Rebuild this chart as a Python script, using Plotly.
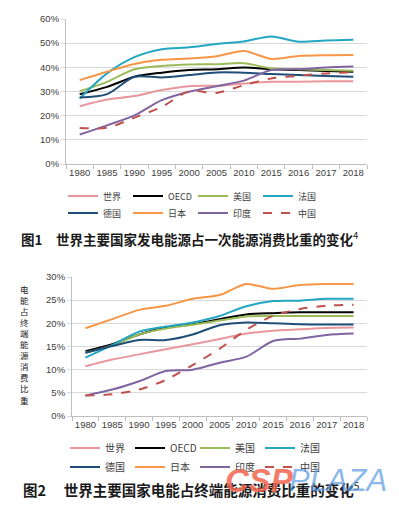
import plotly.graph_objects as go

W, H = 399, 511

years = ["1980", "1985", "1990", "1995", "2000", "2005", "2010", "2015", "2016", "2017", "2018"]
series_names = ["世界", "OECD", "美国", "法国", "德国", "日本", "印度", "中国"]

# Figure 1: share of power generation in primary energy consumption (%)
gen_world = [23.9, 26.7, 28.1, 30.6, 32.2, 32.4, 33.3, 34.0, 34.0, 34.2, 34.2]
gen_oecd = [28.9, 31.9, 36.1, 37.8, 38.9, 39.2, 39.9, 39.2, 38.9, 38.5, 38.2]
gen_usa = [30.1, 34.0, 39.2, 40.6, 41.2, 41.3, 41.7, 39.6, 39.2, 38.9, 38.6]
gen_france = [27.1, 37.5, 44.2, 47.5, 48.3, 49.7, 50.7, 52.8, 50.6, 51.1, 51.4]
gen_germany = [27.5, 28.9, 36.1, 35.8, 36.8, 37.9, 37.8, 37.2, 36.8, 36.4, 36.1]
gen_japan = [34.7, 38.2, 41.4, 43.1, 43.7, 44.6, 46.8, 43.5, 44.7, 45.0, 45.1]
gen_india = [12.2, 16.0, 20.1, 26.4, 29.9, 32.2, 34.5, 38.9, 39.2, 39.9, 40.3]
gen_china = [14.9, 15.0, 19.2, 23.6, 30.1, 29.4, 32.6, 35.4, 36.5, 37.5, 37.9]

# Figure 2: share of electricity in final energy consumption (%)
el_world = [10.75, 12.2, 13.3, 14.4, 15.5, 16.6, 17.8, 18.4, 18.7, 19.0, 19.1]
el_oecd = [14.0, 15.5, 17.6, 19.1, 19.8, 20.9, 21.9, 22.2, 22.4, 22.4, 22.4]
el_usa = [13.65, 15.25, 17.6, 18.9, 19.7, 20.6, 21.5, 21.6, 21.6, 21.6, 21.6]
el_france = [12.6, 15.3, 18.2, 19.3, 20.2, 21.6, 23.7, 24.8, 24.9, 25.3, 25.3]
el_germany = [13.65, 15.1, 16.4, 16.4, 17.6, 19.6, 20.2, 20.0, 19.8, 19.75, 19.75]
el_japan = [18.95, 20.9, 22.9, 23.8, 25.3, 26.1, 28.5, 27.45, 28.3, 28.5, 28.5]
el_india = [4.4, 5.7, 7.5, 9.7, 10.0, 11.5, 12.8, 16.2, 16.7, 17.5, 17.8]
el_china = [4.4, 4.7, 5.7, 7.8, 11.0, 14.5, 18.6, 21.6, 23.1, 23.8, 24.0]

y1_ticks = [0, 10, 20, 30, 40, 50, 60]
y2_ticks = [0, 5, 10, 15, 20, 25, 30]

caption1 = "图1　世界主要国家发电能源占一次能源消费比重的变化"
caption2 = "图2　 世界主要国家电能占终端能源消费比重的变化"
ytitle2 = "电能占终端能源消费比重"

colors = ["#E8979C", "#000000", "#9BBB59", "#23A6C2", "#1F4E79", "#F79646", "#8064A2", "#C0504D"]
dashes = ["solid"] * 7 + ["dash"]

gen_data = [gen_world, gen_oecd, gen_usa, gen_france, gen_germany, gen_japan, gen_india, gen_china]
el_data = [el_world, el_oecd, el_usa, el_france, el_germany, el_japan, el_india, el_china]

CJK = "Noto Sans CJK SC, Noto Sans, sans-serif"
NUMF = "Liberation Sans, Arial, sans-serif"
TXT = "#404040"

fig = go.Figure()
for i, name in enumerate(series_names):
    fig.add_trace(go.Scatter(
        x=years, y=gen_data[i], name=name, mode="lines",
        line=dict(color=colors[i], width=2, dash=dashes[i], shape="spline", smoothing=0.8),
        xaxis="x", yaxis="y", legend="legend" if i < 4 else "legend2",
        hoverinfo="skip"))
for i, name in enumerate(series_names):
    fig.add_trace(go.Scatter(
        x=years, y=el_data[i], name=name, mode="lines",
        line=dict(color=colors[i], width=2, dash=dashes[i], shape="spline", smoothing=0.8),
        xaxis="x2", yaxis="y2", legend="legend3" if i < 4 else "legend4",
        hoverinfo="skip"))

def xax(domain, anchor):
    return dict(domain=domain, anchor=anchor, type="category", range=[-0.5, 10.5],
                tickson="boundaries", ticks="outside", ticklen=4, tickcolor="#BFBFBF",
                showline=True, linecolor="#BFBFBF", linewidth=1, showgrid=False,
                tickangle=0, automargin=False,
                tickfont=dict(family=NUMF, size=9.5, color=TXT), fixedrange=True)

def yax(domain, anchor, rng, ticks):
    return dict(domain=domain, anchor=anchor, range=rng, tickvals=ticks,
                ticktext=[f"{t}%" for t in ticks],
                showgrid=True, gridcolor="#D9D9D9", gridwidth=1,
                showline=True, linecolor="#BFBFBF", linewidth=1, automargin=False,
                ticks="outside", ticklen=4, tickcolor="#D9D9D9", zeroline=False,
                tickfont=dict(family=NUMF, size=9.5, color=TXT), fixedrange=True)

def leg(x, y, size):
    return dict(orientation="h", x=x, y=y, xanchor="left", yanchor="middle",
                entrywidth=20, entrywidthmode="pixels", bgcolor="rgba(0,0,0,0)",
                font=dict(family=CJK, size=size, color=TXT), tracegroupgap=0,
                itemwidth=30, traceorder="normal")

fig.update_layout(
    width=W, height=H, margin=dict(l=0, r=0, t=0, b=0),
    paper_bgcolor="white", plot_bgcolor="white",
    showlegend=True,
    xaxis=xax([66 / W, 367 / W], "y"),
    yaxis=yax([1 - 164 / H, 1 - 19 / H], "x", [0, 60], y1_ticks),
    xaxis2=xax([72 / W, 367 / W], "y2"),
    yaxis2=yax([1 - 416 / H, 1 - 277 / H], "x2", [0, 30], y2_ticks),
    legend=leg(63 / W, 1 - 196 / H, 9),
    legend2=leg(63 / W, 1 - 213 / H, 9),
    legend3=leg(65 / W, 1 - 448 / H, 10),
    legend4=leg(65 / W, 1 - 467 / H, 10),
)

annotations = [
    dict(text=f"<b>{caption1}</b><sup>4</sup>", x=19 / W, y=1 - 238 / H, xref="paper", yref="paper",
         xanchor="left", yanchor="middle", showarrow=False,
         font=dict(family=CJK, size=13.5, color="#1a1a1a")),
    dict(text=f"<b>{caption2}</b><sup>5</sup>", x=21 / W, y=1 - 489 / H, xref="paper", yref="paper",
         xanchor="left", yanchor="middle", showarrow=False,
         font=dict(family=CJK, size=14.5, color="#1a1a1a")),
    dict(text="<br>".join(ytitle2), x=24 / W, y=1 - 344 / H, xref="paper", yref="paper",
         xanchor="center", yanchor="middle", showarrow=False, textangle=0, align="center",
         font=dict(family=CJK, size=8.5, color="#1a1a1a")),
    # watermark
    dict(text="<b><i>CSP</i></b>", x=223 / W, y=1 - 480 / H, xref="paper", yref="paper",
         xanchor="left", yanchor="middle", showarrow=False, opacity=0.85,
         font=dict(family="Liberation Sans, Arial", size=33, color="#F2664F")),
    dict(text="<i>PLAZA</i>", x=287 / W, y=1 - 480 / H, xref="paper", yref="paper",
         xanchor="left", yanchor="middle", showarrow=False, opacity=0.7,
         font=dict(family="Liberation Sans, Arial", size=31, color="#5B9BE0")),
]
fig.update_layout(annotations=annotations)

fig.write_html("out.html", config={"displayModeBar": False},
               post_script="document.body.style.margin='0';document.body.style.overflow='hidden';")
